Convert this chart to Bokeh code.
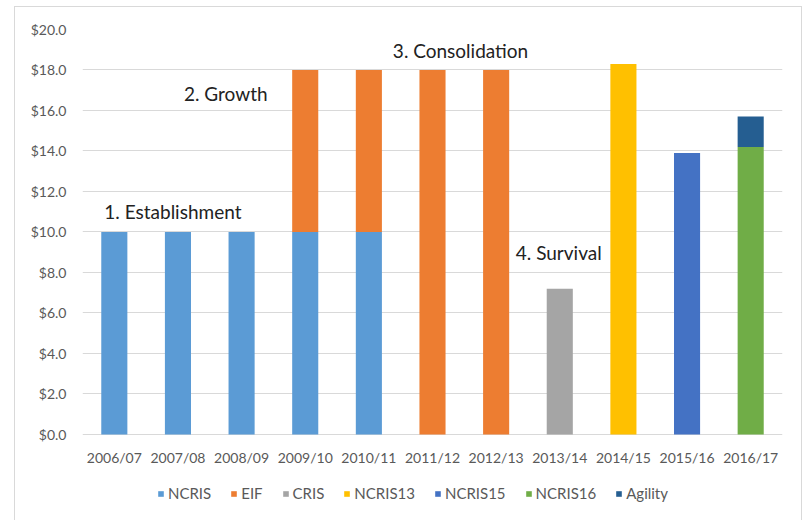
from bokeh.plotting import figure
from bokeh.models import Legend, LegendItem, FixedTicker, NumeralTickFormatter, ColumnDataSource
from bokeh.core.properties import value
from bokeh.embed import file_html
from bokeh.resources import INLINE

years = ["2006/07", "2007/08", "2008/09", "2009/10", "2010/11", "2011/12",
         "2012/13", "2013/14", "2014/15", "2015/16", "2016/17"]
series = ["NCRIS", "EIF", "CRIS", "NCRIS13", "NCRIS15", "NCRIS16", "Agility"]
ncris   = [10, 10, 10, 10, 10, 0, 0, 0, 0, 0, 0]
eif     = [0, 0, 0, 8, 8, 18, 18, 0, 0, 0, 0]
cris    = [0, 0, 0, 0, 0, 0, 0, 7.2, 0, 0, 0]
ncris13 = [0, 0, 0, 0, 0, 0, 0, 0, 18.3, 0, 0]
ncris15 = [0, 0, 0, 0, 0, 0, 0, 0, 0, 13.9, 0]
ncris16 = [0, 0, 0, 0, 0, 0, 0, 0, 0, 0, 14.2]
agility = [0, 0, 0, 0, 0, 0, 0, 0, 0, 0, 1.5]
colors = ["#5B9BD5", "#ED7D31", "#A5A5A5", "#FFC000", "#4472C4", "#70AD47", "#255E91"]

y_ticks = [0, 2, 4, 6, 8, 10, 12, 14, 16, 18, 20]

phase_labels = ["1. Establishment", "2. Growth", "3. Consolidation", "4. Survival"]
phase_x = ["2006/07", "2007/08", "2010/11", "2013/14"]
phase_y = [11.0, 16.85, 18.97, 8.97]
phase_dx = [-10, 6, 24, -44]

src = ColumnDataSource(dict(years=years, NCRIS=ncris, EIF=eif, CRIS=cris,
                            NCRIS13=ncris13, NCRIS15=ncris15, NCRIS16=ncris16,
                            Agility=agility))

p = figure(x_range=years, y_range=(-4.4, 20), width=788, height=516,
           output_backend="svg", toolbar_location=None,
           min_border_left=67, min_border_right=21, min_border_top=22, min_border_bottom=0)
p.margin = (6, 0, 0, 14)
p.styles = {"border": "1px solid #d9d9d9"}
p.outline_line_color = None
p.background_fill_color = "white"
p.border_fill_color = "white"

rs = p.vbar_stack(series, x="years", width=0.41, color=colors, line_color=None, source=src)

# category labels under the $0.0 line
p.text(x=years, y=[0] * len(years), text=years, y_offset=23,
       text_font=value("Lato"), text_font_size="14px", text_color="#595959",
       text_align="center", text_baseline="middle")

src_t = ColumnDataSource(dict(x=phase_x, y=phase_y, t=phase_labels, dx=phase_dx))
p.text(x="x", y="y", text="t", x_offset="dx", source=src_t,
       text_font=value("Lato"), text_font_size="19px", text_color="#222222",
       text_align="left", text_baseline="middle")

p.xaxis.visible = False
p.xgrid.grid_line_color = None
p.ygrid.grid_line_color = "#d9d9d9"
p.ygrid.grid_line_width = 1
p.yaxis.ticker = FixedTicker(ticks=y_ticks)
p.yaxis.formatter = NumeralTickFormatter(format="$0.0")
p.yaxis.axis_line_color = None
p.yaxis.major_tick_line_color = None
p.yaxis.minor_tick_line_color = None
p.yaxis.major_label_text_color = "#595959"
p.yaxis.major_label_text_font = "Lato"
p.yaxis.major_label_text_font_size = "14px"
p.yaxis.major_label_standoff = 10

legend = Legend(items=[LegendItem(label=s, renderers=[r]) for s, r in zip(series, rs)],
                orientation="horizontal", location=(75, 21),
                label_text_font="Lato", label_text_font_size="15px",
                label_text_color="#595959", glyph_width=7, glyph_height=7,
                spacing=19, label_standoff=4, border_line_color=None,
                background_fill_alpha=0, padding=0, margin=0)
p.add_layout(legend, "center")

open("out.html", "w").write(file_html(p, INLINE))
